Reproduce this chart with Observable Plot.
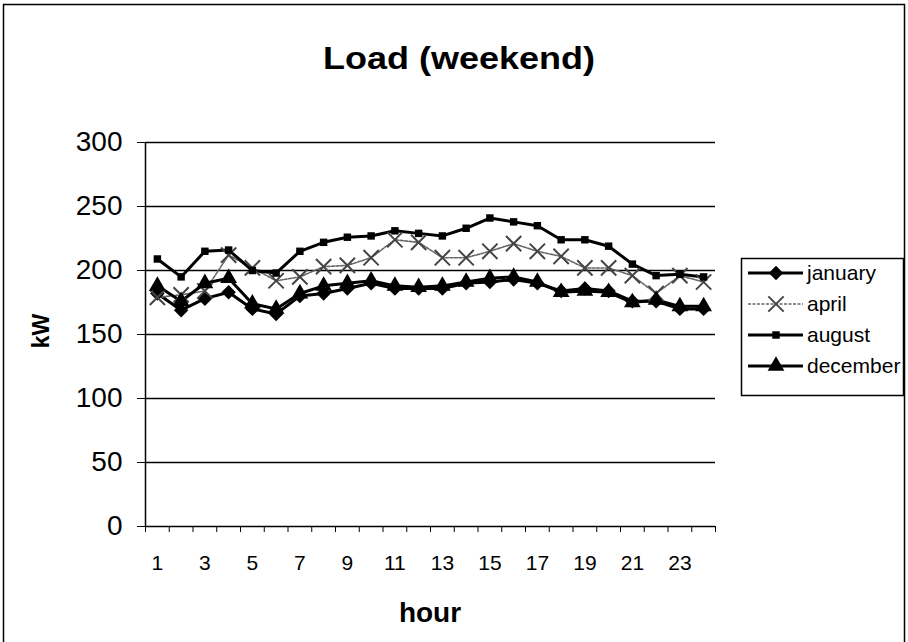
<!DOCTYPE html>
<html>
<head>
<meta charset="utf-8">
<script src="https://cdn.jsdelivr.net/npm/d3@7"></script>
<script src="https://cdn.jsdelivr.net/npm/@observablehq/plot@0.6"></script>
<style>
  html, body { margin: 0; padding: 0; background: #fff; }
  #chart { position: relative; width: 908px; height: 642px; overflow: hidden; font-family: "Liberation Sans", Arial, sans-serif; }
  #chart svg { position: absolute; left: 0; top: 0; }
</style>
</head>
<body>
<div id="chart"></div>
<script>
// ---- data ----
const hours = [1,2,3,4,5,6,7,8,9,10,11,12,13,14,15,16,17,18,19,20,21,22,23,24];
const january  = [182,169,178,183,170,166,180,182,186,190,186,186,186,190,191,193,190,184,186,184,176,176,170,170];
const april    = [179,181,184,212,202,192,195,203,204,210,224,222,210,210,215,221,215,211,202,202,196,182,196,191];
const august   = [209,195,215,216,200,198,215,222,226,227,231,229,227,233,241,238,235,224,224,219,205,196,197,195];
const december = [188,176,190,194,174,170,182,188,190,192,188,187,188,191,194,195,191,183,184,183,175,177,172,172];
const seriesNames = ["january","april","august","december"];
const yTicks = [0,50,100,150,200,250,300];
const xTickLabels = [1,3,5,7,9,11,13,15,17,19,21,23];
const titleText = "Load (weekend)";
const xLabel = "hour";
const yLabel = "kW";

const seriesValues = {january, april, august, december};
const rows = seriesNames.flatMap(name => hours.map((h, i) => ({series: name, hour: h, kW: seriesValues[name][i]})));
const of = name => rows.filter(d => d.series === name);
const boundaries = [...hours.map(h => h - 0.5), hours[hours.length - 1] + 0.5];

const styles = {
  january:  {stroke: "#000", strokeWidth: 3, symbol: "diamond2", r: 6.5, fill: "#000", dstroke: "none"},
  april:    {stroke: "#666", strokeWidth: 1.6, dash: "3,1.5", symbol: "times", r: 7, fill: "none", dstroke: "#444"},
  august:   {stroke: "#000", strokeWidth: 3, symbol: "square", r: 4.2, fill: "#000", dstroke: "none"},
  december: {stroke: "#000", strokeWidth: 3, symbol: "triangle2", r: 8, fill: "#000", dstroke: "none"}
};

const marks = [
  Plot.gridY(yTicks.filter(v => v > 0), {stroke: "#000", strokeOpacity: 1, strokeWidth: 1.5}),
  Plot.ruleY([0], {stroke: "#000", strokeWidth: 1.5}),
  Plot.ruleX([boundaries[0]], {stroke: "#000", strokeWidth: 1.5}),
  Plot.axisY(yTicks, {tickSize: 8, tickPadding: 15, fontSize: 28, label: null}),
  Plot.axisX(xTickLabels, {tickSize: 0, tickPadding: 29, fontSize: 21, label: null}),
  Plot.axisX(boundaries, {tickSize: 6, tickFormat: () => "", label: null})
];
for (const name of seriesNames) {
  const s = styles[name];
  marks.push(Plot.line(of(name), {x: "hour", y: "kW", stroke: s.stroke, strokeWidth: s.strokeWidth, strokeDasharray: s.dash}));
}
for (const name of seriesNames) {
  const s = styles[name];
  marks.push(Plot.dot(of(name), {x: "hour", y: "kW", symbol: () => s.symbol, r: s.r, fill: s.fill, stroke: s.dstroke, strokeWidth: 2}));
}

const plot = Plot.plot({
  width: 908,
  height: 642,
  marginLeft: 145,
  marginRight: 193,
  marginTop: 142,
  marginBottom: 116,
  style: {fontFamily: '"Liberation Sans", Arial, sans-serif', color: "#000", background: "transparent"},
  x: {type: "linear", domain: [boundaries[0], boundaries[boundaries.length - 1]], axis: null},
  y: {type: "linear", domain: [yTicks[0], yTicks[yTicks.length - 1]], axis: null},
  symbol: {type: "identity"},
  marks
});

const chart = document.getElementById("chart");
chart.appendChild(plot);

// ---- overlay: border, title, axis titles, legend ----
const ns = "http://www.w3.org/2000/svg";
const ov = d3.select(chart).append("svg")
  .attr("width", 908).attr("height", 642)
  .style("pointer-events", "none")
  .style("font-family", '"Liberation Sans", Arial, sans-serif');

ov.append("rect").attr("x", 3.5).attr("y", 4.5).attr("width", 901).attr("height", 660)
  .attr("fill", "none").attr("stroke", "#000").attr("stroke-width", 1.5);

ov.append("text").attr("x", 459).attr("y", 69).attr("text-anchor", "middle")
  .attr("font-size", 32).attr("font-weight", "bold")
  .attr("textLength", 272).attr("lengthAdjust", "spacingAndGlyphs")
  .text(titleText);

ov.append("text").attr("x", 430).attr("y", 622).attr("text-anchor", "middle")
  .attr("font-size", 28).attr("font-weight", "bold").text(xLabel);

ov.append("text").attr("transform", "translate(48.5,331) rotate(-90)").attr("text-anchor", "middle")
  .attr("font-size", 23).attr("font-weight", "bold").text(yLabel);

const lg = ov.append("g").attr("transform", "translate(741,258)");
lg.append("rect").attr("x", 0.5).attr("y", 0.5).attr("width", 162).attr("height", 137)
  .attr("fill", "#fff").attr("stroke", "#000").attr("stroke-width", 1.5);
const symbolMap = {diamond2: d3.symbolDiamond2, times: d3.symbolTimes, square: d3.symbolSquare, triangle2: d3.symbolTriangle2};
seriesNames.forEach((name, i) => {
  const s = styles[name];
  const y = 15 + i * 31;
  const row = lg.append("g").attr("transform", `translate(0,${y})`);
  row.append("line").attr("x1", 7).attr("x2", 62).attr("y1", 0).attr("y2", 0)
    .attr("stroke", s.stroke).attr("stroke-width", s.strokeWidth).attr("stroke-dasharray", s.dash || null);
  row.append("path").attr("transform", "translate(35,0)")
    .attr("d", d3.symbol(symbolMap[s.symbol], Math.PI * s.r * s.r)())
    .attr("fill", s.fill).attr("stroke", s.dstroke).attr("stroke-width", 2);
  row.append("text").attr("x", 66).attr("y", 0).attr("dy", "0.35em")
    .attr("font-size", 21).text(name);
});
</script>
</body>
</html>
